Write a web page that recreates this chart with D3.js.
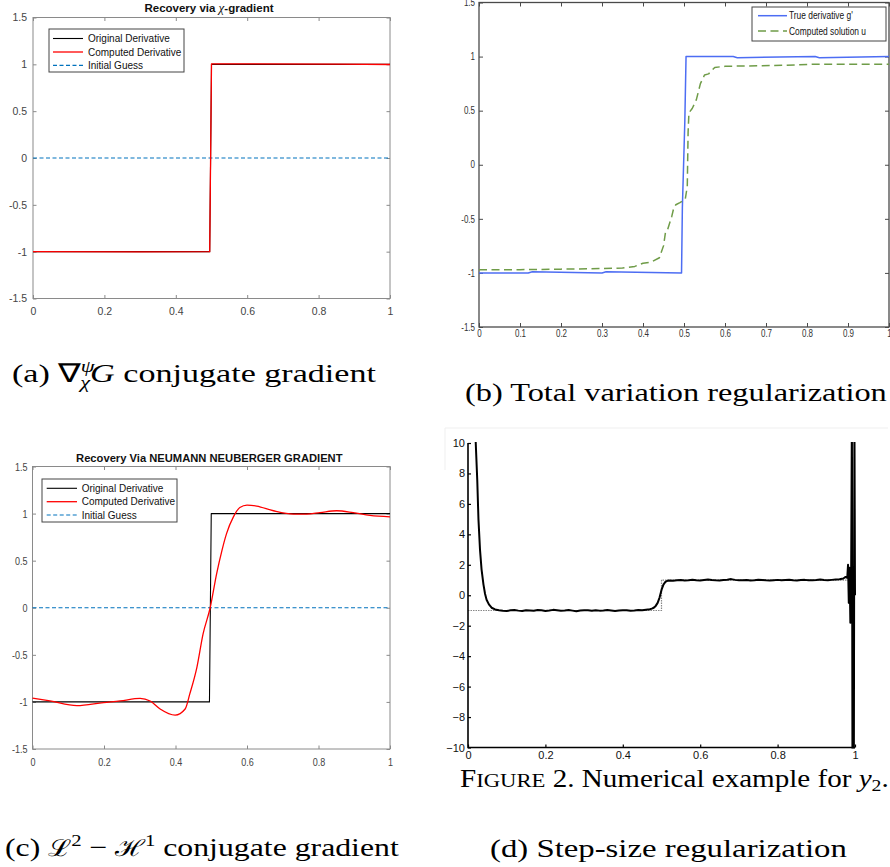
<!DOCTYPE html>
<html>
<head>
<meta charset="utf-8">
<script src="https://cdn.jsdelivr.net/npm/d3@7"></script>
<style>
  body { margin: 0; background: #fff; }
  svg { display: block; }
</style>
</head>
<body>
<script>
// ---- data ----

// (a) chi-gradient recovery
const aOrigX = [0, 0.495, 0.5, 1];
const aOrigY = [-1, -1, 1, 1];
const aCompX = [0, 0.3, 0.495, 0.5, 0.86, 1];
const aCompY = [-1, -1.003, -1, 1.005, 1.003, 0.998];
const aGuessX = [0, 1];
const aGuessY = [0, 0];

// (b) total variation
const bTrueX = [0, 0.12, 0.13, 0.3, 0.31, 0.494, 0.496, 0.502, 0.505, 0.62, 0.63, 0.82, 0.83, 1];
const bTrueY = [-1, -1, -0.99, -1, -0.99, -1, -0.4, 0.4, 1, 1, 0.99, 1, 0.99, 1];
const bCompX = [0, 0.1, 0.2, 0.3, 0.35, 0.38, 0.4, 0.42, 0.44, 0.45, 0.455, 0.46, 0.47, 0.475, 0.48, 0.49, 0.503, 0.508, 0.51, 0.512, 0.52, 0.53, 0.54, 0.55, 0.56, 0.575, 0.6, 0.75, 0.82, 1];
const bCompY = [-0.97, -0.97, -0.965, -0.96, -0.955, -0.94, -0.91, -0.9, -0.86, -0.75, -0.62, -0.6, -0.48, -0.4, -0.37, -0.35, -0.32, -0.2, 0.3, 0.48, 0.52, 0.6, 0.75, 0.83, 0.84, 0.9, 0.91, 0.92, 0.93, 0.93];

// (c) Neumann-Neuberger gradient
const cOrigX = [0, 0.495, 0.5, 1];
const cOrigY = [-1, -1, 1, 1];
const cCompX = [0, 0.049, 0.124, 0.199, 0.245, 0.301, 0.329, 0.357, 0.399, 0.427, 0.44, 0.46, 0.477, 0.497, 0.515, 0.53, 0.543, 0.562, 0.58, 0.6, 0.627, 0.674, 0.73, 0.767, 0.804, 0.851, 0.897, 0.944, 1];
const cCompY = [-0.96, -0.99, -1.04, -1.007, -0.99, -0.962, -0.99, -1.075, -1.14, -1.075, -0.915, -0.63, -0.28, 0, 0.36, 0.61, 0.79, 0.965, 1.064, 1.09, 1.08, 1.03, 0.995, 0.995, 1.01, 1.03, 1.01, 0.98, 0.965];
const cGuessX = [0, 1];
const cGuessY = [0, 0];

// (d) step-size regularization
const dTrueX = [0, 0.5, 0.5, 1];
const dTrueY = [-1, -1, 1, 1];
const dComp = [
  [0.019, 12], [0.02, 10], [0.024, 7.5], [0.027, 5], [0.031, 3], [0.035, 1.7], [0.04, 0.7], [0.044, 0.1],
  [0.048, -0.3], [0.054, -0.6], [0.061, -0.82], [0.07, -0.93], [0.08, -0.98],
  [0.09, -1.02], [0.1, -1.04], [0.11, -0.99], [0.12, -0.97], [0.13, -1.01], [0.14, -1.03], [0.15, -0.98],
  [0.16, -1.0], [0.17, -1.02], [0.18, -0.97], [0.19, -0.99], [0.2, -1.03], [0.21, -1.0], [0.22, -0.96],
  [0.23, -0.99], [0.24, -1.02], [0.25, -1.0], [0.26, -0.97], [0.27, -1.01], [0.28, -1.05], [0.29, -1.0],
  [0.3, -0.98], [0.31, -0.99], [0.32, -1.02], [0.33, -0.98], [0.34, -1.01], [0.35, -1.0], [0.36, -0.97],
  [0.37, -1.0], [0.38, -1.03], [0.39, -1.0], [0.4, -0.98], [0.41, -0.99], [0.42, -1.02], [0.43, -1.0],
  [0.44, -0.97], [0.45, -0.99], [0.46, -0.95], [0.47, -0.92], [0.475, -0.88], [0.48, -0.82], [0.485, -0.7],
  [0.49, -0.5], [0.495, -0.15], [0.5, 0.35], [0.505, 0.7], [0.51, 0.88], [0.515, 0.95],
  [0.52, 0.97], [0.53, 0.96], [0.54, 0.99], [0.55, 1.0], [0.56, 0.97], [0.57, 0.98], [0.58, 1.02],
  [0.59, 0.99], [0.6, 0.97], [0.61, 1.0], [0.62, 1.03], [0.63, 1.0], [0.64, 0.98], [0.65, 0.97],
  [0.66, 1.0], [0.67, 1.02], [0.68, 1.06], [0.69, 1.01], [0.7, 0.99], [0.71, 0.98], [0.72, 1.0],
  [0.73, 0.97], [0.74, 0.99], [0.75, 1.02], [0.76, 1.0], [0.77, 0.98], [0.78, 0.97], [0.79, 0.99],
  [0.8, 1.01], [0.81, 0.98], [0.82, 1.0], [0.83, 1.02], [0.84, 0.99], [0.85, 0.97], [0.86, 1.0],
  [0.87, 1.01], [0.88, 0.99], [0.89, 0.98], [0.9, 1.0], [0.91, 1.03], [0.92, 1.0], [0.93, 0.99],
  [0.94, 1.01], [0.95, 1.03], [0.96, 1.05], [0.97, 1.1], [0.975, 1.2], [0.98, 1.15], [0.982, 2.0],
  [0.984, -0.5], [0.986, 1.8], [0.988, -1.8], [0.99, 1.0], [0.992, 12], [0.9935, -12], [0.997, -12],
  [0.9985, 12], [1.0, 0]
];

// tick values
const abcYTicks = [-1.5, -1, -0.5, 0, 0.5, 1, 1.5];
const acXTicks = [0, 0.2, 0.4, 0.6, 0.8, 1];
const bXTicks = [0, 0.1, 0.2, 0.3, 0.4, 0.5, 0.6, 0.7, 0.8, 0.9, 1];
const dYTicks = [-10, -8, -6, -4, -2, 0, 2, 4, 6, 8, 10];
const dXTicks = [0, 0.2, 0.4, 0.6, 0.8, 1];

// ---- drawing ----
const fontSans = "'Liberation Sans', Arial, sans-serif";
const fontSerif = "'Liberation Serif', 'Times New Roman', serif";

const svg = d3.select("body").append("svg")
    .attr("width", 890)
    .attr("height", 867);

const zip = (xs, ys) => xs.map((v, i) => [v, ys[i]]);

function styleAxis(sel, o) {
  sel.select(".domain").remove();
  sel.selectAll("line").attr("stroke", o.color).attr("stroke-width", o.tickWidth || 1);
  sel.selectAll("text")
      .attr("font-family", o.font)
      .attr("font-size", o.size)
      .attr("fill", o.textColor)
      .attr("transform", o.sx ? `scale(${o.sx},1)` : null);
}

// axes with inward ticks; full box unless o.open
function drawAxes(g, x, y, o) {
  const [x0, x1] = x.range();
  const [y0, y1] = y.range();
  const fx = o.fx || (d => String(d));
  const fy = o.fy || (d => String(d));

  g.append("g")
      .attr("transform", `translate(0,${y0})`)
      .call(d3.axisBottom(x).tickValues(o.xt).tickFormat(fx).tickSize(-o.tl).tickSizeOuter(0).tickPadding(o.xpad))
      .call(s => styleAxis(s, o));
  g.append("g")
      .attr("transform", `translate(${x0},0)`)
      .call(d3.axisLeft(y).tickValues(o.yt).tickFormat(fy).tickSize(-o.tl).tickSizeOuter(0).tickPadding(o.ypad))
      .call(s => styleAxis(s, o));

  if (!o.open) {
    g.append("g")
        .attr("transform", `translate(0,${y1})`)
        .call(d3.axisTop(x).tickValues(o.xt).tickFormat("").tickSize(-o.tl).tickSizeOuter(0))
        .call(s => styleAxis(s, o));
    g.append("g")
        .attr("transform", `translate(${x1},0)`)
        .call(d3.axisRight(y).tickValues(o.yt).tickFormat("").tickSize(-o.tl).tickSizeOuter(0))
        .call(s => styleAxis(s, o));
    g.append("rect")
        .attr("x", x0).attr("y", y1)
        .attr("width", x1 - x0).attr("height", y0 - y1)
        .attr("fill", "none")
        .attr("stroke", o.color)
        .attr("stroke-width", o.boxWidth || 1);
  } else {
    g.append("path")
        .attr("d", `M${x0},${y1}V${y0}H${x1}`)
        .attr("fill", "none")
        .attr("stroke", o.color)
        .attr("stroke-width", o.boxWidth || 1);
  }
}

function clipFor(id, x, y) {
  const [x0, x1] = x.range();
  const [y0, y1] = y.range();
  svg.append("clipPath").attr("id", id)
    .append("rect")
      .attr("x", x0 - 1).attr("y", y1 - 1)
      .attr("width", x1 - x0 + 2).attr("height", y0 - y1 + 2);
  return `url(#${id})`;
}

function drawLine(g, pts, x, y, style, curve) {
  const line = d3.line()
      .x(d => x(d[0]))
      .y(d => y(d[1]))
      .curve(curve || d3.curveLinear);
  g.append("path")
      .datum(pts)
      .attr("d", line)
      .attr("fill", "none")
      .attr("stroke", style.color)
      .attr("stroke-width", style.width)
      .attr("stroke-dasharray", style.dash || null)
      .attr("stroke-linejoin", "round");
}

function drawLegend(g, box, rows, lineX, textX, items, font, size, sx) {
  g.append("rect")
      .attr("x", box[0]).attr("y", box[1])
      .attr("width", box[2] - box[0]).attr("height", box[3] - box[1])
      .attr("fill", "#fff")
      .attr("stroke", "#444")
      .attr("stroke-width", 1);
  items.forEach((it, i) => {
    g.append("line")
        .attr("x1", lineX[0]).attr("x2", lineX[1])
        .attr("y1", rows[i]).attr("y2", rows[i])
        .attr("stroke", it.color)
        .attr("stroke-width", it.width)
        .attr("stroke-dasharray", it.dash || null);
    g.append("text")
        .attr("x", textX).attr("y", rows[i])
        .attr("dy", "0.35em")
        .attr("font-family", font)
        .attr("font-size", size)
        .attr("fill", "#111")
        .attr("transform", sx ? `translate(${textX},0) scale(${sx},1) translate(${-textX},0)` : null)
        .text(it.label);
  });
}

// scale text horizontally to a measured span
function fitText(t, xa, xb) {
  const b = t.node().getBBox();
  const s = (xb - xa) / b.width;
  t.attr("transform", `translate(${xa},0) scale(${s},1) translate(${-b.x},0)`);
}

const matlabAxes = {
  tl: 3.5, xpad: 9, ypad: 6, color: "#8a8a8a", textColor: "#444",
  font: fontSans, size: 10.5
};

const origStyle = {color: "#000", width: 1.1};
const compStyle = {color: "#ff0000", width: 1.3};
const guessStyle = {color: "#0072BD", width: 1.2, dash: "4,2.5"};

// ---------- panel (a) ----------
{
  const x = d3.scaleLinear().domain([0, 1]).range([33, 390]);
  const y = d3.scaleLinear().domain([-1.5, 1.5]).range([298.5, 17.5]);
  const g = svg.append("g");
  drawAxes(g, x, y, {...matlabAxes, xt: acXTicks, yt: abcYTicks});
  const p = g.append("g").attr("clip-path", clipFor("clipA", x, y));
  drawLine(p, zip(aGuessX, aGuessY), x, y, guessStyle);
  drawLine(p, zip(aOrigX, aOrigY), x, y, origStyle);
  drawLine(p, zip(aCompX, aCompY), x, y, compStyle);

  const t = g.append("text")
      .attr("x", 209).attr("y", 12.3)
      .attr("text-anchor", "middle")
      .attr("font-family", fontSans)
      .attr("font-weight", "bold")
      .attr("font-size", 11.5)
      .attr("fill", "#111");
  t.append("tspan").text("Recovery via ");
  t.append("tspan").attr("font-family", fontSerif).attr("font-style", "italic").attr("font-weight", "normal").attr("font-size", 13).text("χ");
  t.append("tspan").text("-gradient");

  drawLegend(g, [49, 29, 184, 72], [38.5, 52, 65.3], [53, 83], 88, [
    {label: "Original Derivative", ...origStyle},
    {label: "Computed Derivative", ...compStyle},
    {label: "Initial Guess", ...guessStyle}
  ], fontSans, 10);
}

// ---------- panel (b) ----------
{
  const x = d3.scaleLinear().domain([0, 1]).range([479, 889]);
  const y = d3.scaleLinear().domain([-1.5, 1.5]).range([327, 2.5]);
  const g = svg.append("g");
  drawAxes(g, x, y, {
    tl: 4, xpad: 3, ypad: 5, color: "#4a4a4a", textColor: "#333",
    font: fontSans, size: 10, sx: 0.8, boxWidth: 1.3, xt: bXTicks, yt: abcYTicks
  });
  const p = g.append("g").attr("clip-path", clipFor("clipB", x, y));
  drawLine(p, zip(bTrueX, bTrueY), x, y, {color: "#4d6df3", width: 1.5});
  drawLine(p, zip(bCompX, bCompY), x, y, {color: "#6f9c48", width: 1.5, dash: "8,4.5"});

  drawLegend(g, [752, 7, 886, 41], [15.7, 31], [758, 787], 789, [
    {label: "True derivative g'", color: "#4d6df3", width: 1.5},
    {label: "Computed solution u", color: "#6f9c48", width: 1.5, dash: "8,4.5"}
  ], fontSans, 10.5, 0.8);
}

// ---------- panel (c) ----------
{
  const x = d3.scaleLinear().domain([0, 1]).range([32.5, 390]);
  const y = d3.scaleLinear().domain([-1.5, 1.5]).range([749, 466.5]);
  const g = svg.append("g");
  drawAxes(g, x, y, {...matlabAxes, size: 11, sx: 0.82, xt: acXTicks, yt: abcYTicks});
  const p = g.append("g").attr("clip-path", clipFor("clipC", x, y));
  drawLine(p, zip(cGuessX, cGuessY), x, y, guessStyle);
  drawLine(p, zip(cOrigX, cOrigY), x, y, origStyle);
  drawLine(p, zip(cCompX, cCompY), x, y, compStyle, d3.curveMonotoneX);

  g.append("text")
      .attr("x", 209.3).attr("y", 461.7)
      .attr("text-anchor", "middle")
      .attr("font-family", fontSans)
      .attr("font-weight", "bold")
      .attr("font-size", 11.2)
      .attr("fill", "#111")
      .text("Recovery Via NEUMANN NEUBERGER GRADIENT");

  drawLegend(g, [42, 479, 177, 522], [488.3, 501.7, 515], [46.7, 77], 81.7, [
    {label: "Original Derivative", ...origStyle},
    {label: "Computed Derivative", ...compStyle},
    {label: "Initial Guess", ...guessStyle}
  ], fontSans, 10);
}

// ---------- panel (d) ----------
{
  const x = d3.scaleLinear().domain([0, 1]).range([468, 855]);
  const y = d3.scaleLinear().domain([-10, 10]).range([747.5, 443]);
  const g = svg.append("g");
  g.append("path")
      .attr("d", "M445,470V428H888")
      .attr("fill", "none")
      .attr("stroke", "#efefef");
  const p = g.append("g").attr("clip-path", clipFor("clipD", x, y));
  drawLine(p, zip(dTrueX, dTrueY), x, y, {color: "#888", width: 1.2, dash: "1.5,1"});
  drawLine(p, dComp, x, y, {color: "#000", width: 2});
  drawAxes(g, x, y, {
    tl: 3, xpad: 4, ypad: 3, color: "#000", textColor: "#111",
    font: fontSans, size: 11, boxWidth: 1.6, tickWidth: 1.2, open: true,
    xt: dXTicks, yt: dYTicks,
    fy: d => String(d).replace("-", "\u2212")
  });
}

// ---------- captions ----------
function serifText(yb, size) {
  return svg.append("text")
      .attr("x", 0).attr("y", yb)
      .attr("font-family", fontSerif)
      .attr("font-size", size)
      .attr("fill", "#000");
}

{
  const t = serifText(382.5, 26);
  t.append("tspan").text("(a) ∇");
  t.append("tspan").attr("dy", -10).attr("font-size", 17).attr("font-style", "italic").text("ψ");
  t.append("tspan").attr("dx", -11).attr("dy", 16).attr("font-size", 17).attr("font-style", "italic").text("χ");
  t.append("tspan").attr("dy", -6).attr("font-style", "italic").text("G");
  t.append("tspan").text(" conjugate gradient");
  fitText(t, 12, 377);
}
{
  const t = serifText(401.5, 26);
  t.text("(b) Total variation regularization");
  fitText(t, 465, 887);
}
{
  const t = serifText(787, 25);
  t.append("tspan").text("F");
  t.append("tspan").attr("font-size", 19.5).text("IGURE");
  t.append("tspan").text(" 2.  Numerical example for ");
  t.append("tspan").attr("font-style", "italic").text("y");
  t.append("tspan").attr("font-size", 17).attr("dy", 4).text("2");
  t.append("tspan").attr("dy", -4).text(".");
  fitText(t, 460, 889);
}
{
  const t = serifText(856, 26);
  t.append("tspan").text("(c) ");
  t.append("tspan").attr("font-size", 23).text("ℒ");
  t.append("tspan").attr("font-size", 17).attr("dy", -10).text("2");
  t.append("tspan").attr("dy", 10).text(" − ");
  t.append("tspan").attr("font-size", 23).text("ℋ");
  t.append("tspan").attr("font-size", 17).attr("dy", -10).text("1");
  t.append("tspan").attr("dy", 10).text(" conjugate gradient");
  fitText(t, 5, 400);
}
{
  const t = serifText(857, 26);
  t.text("(d) Step-size regularization");
  fitText(t, 490, 847);
}
</script>
</body>
</html>
